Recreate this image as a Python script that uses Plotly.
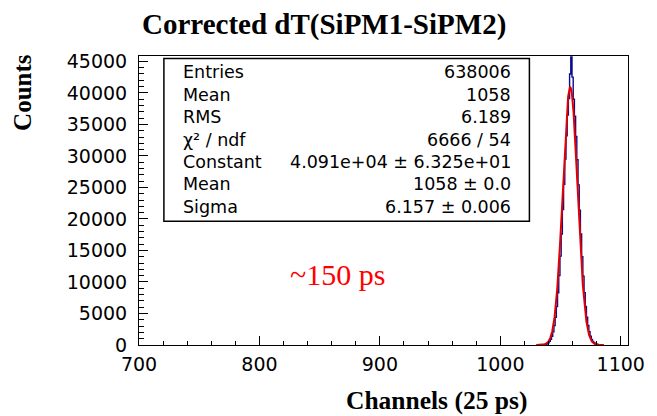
import numpy as np
import plotly.graph_objects as go

# ---- data ----
channels = list(range(1030, 1085))
counts = [0, 5, 10, 10, 10, 20, 40, 70, 120, 210,
          350, 570, 900, 1400, 2100, 3100, 4400, 6100, 8300, 11000,
          14100, 17600, 21500, 25500, 29500, 33200, 36500, 39100, 43000, 45700,
          42500, 39000, 36300, 33100, 29400, 25400, 21400, 17600, 14000, 10900,
          8300, 6100, 4400, 3100, 2100, 1400, 900, 570, 350, 210,
          120, 70, 40, 20, 0]

fit_constant = 4.091e4
fit_mean = 1058.0
fit_sigma = 6.157
fit_range = [1030, 1086]

stat_labels = ["Entries", "Mean", "RMS", "χ² / ndf", "Constant", "Mean", "Sigma"]
stat_values = ["638006", "1058", "6.189", "6666 / 54",
               "4.091e+04 ± 6.325e+01", "1058 ± 0.0", "6.157 ± 0.006"]

x_ticks = [700, 800, 900, 1000, 1100]
y_ticks = [0, 5000, 10000, 15000, 20000, 25000, 30000, 35000, 40000, 45000]

# ---- geometry (pixels) ----
W, H = 657, 416
L, R, T, B = 139, 630, 55.5, 345


def px(x):
    return (x - L) / (R - L)


def py(y):
    return (B - y) / (B - T)


fx = np.linspace(fit_range[0], fit_range[1], 600)
fy = fit_constant * np.exp(-0.5 * ((fx - fit_mean) / fit_sigma) ** 2)

fig = go.Figure()
fig.add_trace(go.Scatter(x=channels, y=counts, mode="lines",
                         line=dict(color="#0a0a8c", width=1.4, shape="hvh"),
                         showlegend=False, hoverinfo="skip"))
fig.add_trace(go.Scatter(x=fx, y=fy, mode="lines", line=dict(color="#e00000", width=2),
                         showlegend=False, hoverinfo="skip"))

tickfont = dict(family="DejaVu Sans", size=19, color="black")
fig.update_layout(
    width=W, height=H,
    margin=dict(l=L, r=W - R, t=T, b=H - B, pad=0),
    paper_bgcolor="white", plot_bgcolor="white",
    xaxis=dict(range=[700, 1106], tickvals=x_ticks, ticktext=[str(v) for v in x_ticks],
               ticks="inside", ticklen=9, tickwidth=1,
               tickcolor="black", showline=True, linecolor="black", linewidth=1, mirror=True,
               showgrid=False, zeroline=False, tickfont=tickfont, ticklabelstandoff=2,
               layer="above traces",
               minor=dict(dtick=20, ticks="inside", ticklen=4, tickcolor="black", showgrid=False)),
    yaxis=dict(range=[0, 45850], tickvals=y_ticks, ticktext=[str(v) for v in y_ticks],
               ticks="inside", ticklen=9, tickwidth=1,
               tickcolor="black", showline=True, linecolor="black", linewidth=1, mirror=True,
               showgrid=False, zeroline=False, tickfont=tickfont, ticklabelstandoff=7,
               layer="above traces",
               minor=dict(dtick=1000, ticks="inside", ticklen=5, tickcolor="black", showgrid=False)),
)

# stats box
fig.add_shape(type="rect", xref="paper", yref="paper", x0=px(164), x1=px(531), y0=py(221), y1=py(58),
              line=dict(color="black", width=1.5), fillcolor="white", layer="above")
row_y = [72, 94.5, 117, 139.5, 162, 184, 206.5]
sfont = dict(family="DejaVu Sans", size=17.5, color="black")
for lab, val, yy in zip(stat_labels, stat_values, row_y):
    fig.add_annotation(x=px(181), y=py(yy), xref="paper", yref="paper", text=lab, showarrow=False,
                       xanchor="left", yanchor="middle", font=sfont)
    fig.add_annotation(x=px(515), y=py(yy), xref="paper", yref="paper", text=val, showarrow=False,
                       xanchor="right", yanchor="middle", font=sfont)

serif = "Liberation Serif"
fig.add_annotation(x=px(325), y=py(24), xref="paper", yref="paper", text="<b>Corrected dT(SiPM1-SiPM2)</b>",
                   showarrow=False, xanchor="center", yanchor="middle",
                   font=dict(family=serif, size=29, color="black"))
fig.add_annotation(x=px(22), y=py(92), xref="paper", yref="paper", text="<b>Counts</b>", textangle=-90,
                   showarrow=False, xanchor="center", yanchor="middle",
                   font=dict(family=serif, size=25, color="black"))
fig.add_annotation(x=px(438), y=py(401), xref="paper", yref="paper", text="<b>Channels (25 ps)</b>",
                   showarrow=False, xanchor="center", yanchor="middle",
                   font=dict(family=serif, size=25.5, color="black"))
fig.add_annotation(x=px(338), y=py(274), xref="paper", yref="paper", text="~150 ps",
                   showarrow=False, xanchor="center", yanchor="middle",
                   font=dict(family=serif, size=30, color="#ff0000"))

fig.write_html("out.html")
